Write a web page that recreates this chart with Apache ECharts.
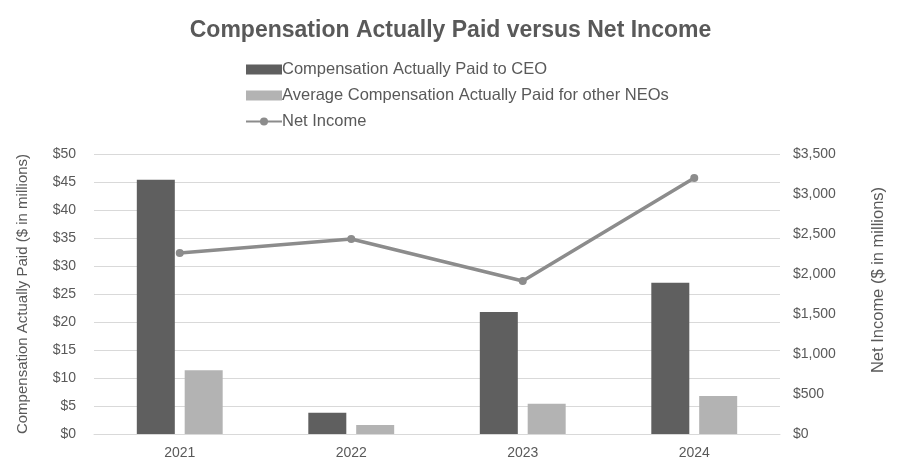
<!DOCTYPE html>
<html>
<head>
<meta charset="utf-8">
<script src="https://cdn.jsdelivr.net/npm/echarts@6/dist/echarts.min.js"></script>
<style>html,body{margin:0;padding:0;background:#fff;}#c{width:901px;height:475px;}</style>
</head>
<body>
<div id="c"></div>
<script>
const years = ['2021', '2022', '2023', '2024'];
const ceoPay = [45.4, 3.8, 21.8, 27.0];
const neoPay = [11.4, 1.6, 5.4, 6.8];
const netIncome = [2262, 2437, 1912, 3200];
const leftTicks = [0, 5, 10, 15, 20, 25, 30, 35, 40, 45, 50];
const rightTicks = [0, 500, 1000, 1500, 2000, 2500, 3000, 3500];

const font = 'Liberation Sans, Arial, sans-serif';
const txt = '#595959';
const chart = echarts.init(document.getElementById('c'));
chart.setOption({
  animation: false,
  title: {
    text: 'Compensation Actually Paid versus Net Income',
    left: 'center', top: 14,
    textStyle: { fontFamily: font, fontSize: 23, fontWeight: 'bold', color: txt }
  },
  legend: {
    orient: 'vertical', left: 240, top: 56, itemGap: 9,
    itemWidth: 36, itemHeight: 10,
    textStyle: { fontFamily: font, fontSize: 16.5, color: txt, padding: [0,0,0,-5] },
    data: [
      { name: 'Compensation Actually Paid to CEO', icon: 'rect' },
      { name: 'Average Compensation Actually Paid for other NEOs', icon: 'rect' },
      { name: 'Net Income' }
    ]
  },
  grid: { left: 94, right: 121, top: 154, bottom: 41 },
  xAxis: {
    type: 'category', data: years,
    axisTick: { show: false },
    axisLine: { lineStyle: { color: '#d9d9d9', width: 1 } },
    axisLabel: { fontFamily: font, fontSize: 14, color: txt, margin: 12 }
  },
  yAxis: [{
    type: 'value', min: leftTicks[0], max: leftTicks[leftTicks.length-1], interval: 5,
    name: 'Compensation Actually Paid ($ in millions)', nameLocation: 'middle', nameGap: 64, nameRotate: 90,
    nameTextStyle: { fontFamily: font, fontSize: 15, color: txt },
    axisLabel: { fontFamily: font, fontSize: 14, color: txt, margin: 18, formatter: v => '$' + v },
    splitLine: { lineStyle: { color: '#d9d9d9' } },
    axisLine: { show: false }, axisTick: { show: false }
  }, {
    type: 'value', min: rightTicks[0], max: rightTicks[rightTicks.length-1], interval: 500,
    name: 'Net Income ($ in millions)', nameLocation: 'middle', nameGap: 90, nameRotate: 90,
    nameTextStyle: { fontFamily: font, fontSize: 16.5, color: txt, padding: [0,0,0,28] },
    axisLabel: { fontFamily: font, fontSize: 14, color: txt, margin: 13,
      formatter: v => '$' + v.toLocaleString('en-US') },
    splitLine: { show: false },
    axisLine: { show: false }, axisTick: { show: false }
  }],
  series: [{
    name: 'Compensation Actually Paid to CEO', type: 'bar', data: ceoPay,
    barWidth: 38, barGap: '26%', itemStyle: { color: '#5f5f5f' }
  }, {
    name: 'Average Compensation Actually Paid for other NEOs', type: 'bar', data: neoPay,
    barWidth: 38, itemStyle: { color: '#b3b3b3' }
  }, {
    name: 'Net Income', type: 'line', yAxisIndex: 1, data: netIncome,
    symbol: 'circle', symbolSize: 8,
    lineStyle: { color: '#8c8c8c', width: 3.5 },
    itemStyle: { color: '#8c8c8c' }
  }]
});
</script>
</body>
</html>
